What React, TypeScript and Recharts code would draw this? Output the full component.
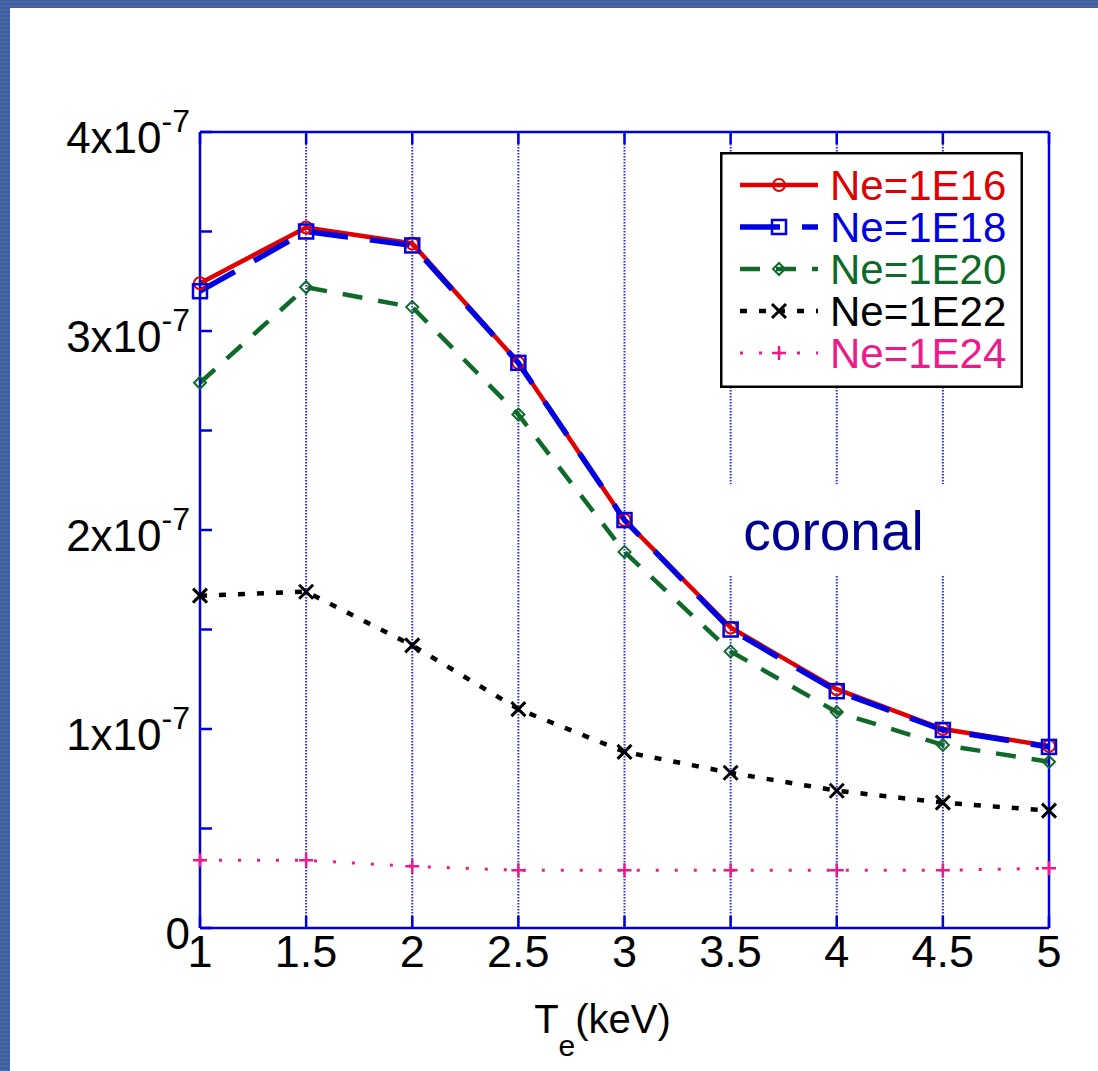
import React from "react";
import {
  LineChart,
  Line,
  XAxis,
  YAxis,
  CartesianGrid,
  Legend,
  ReferenceArea,
} from "recharts";

// electron temperature, keV
const temps = [1, 1.5, 2, 2.5, 3, 3.5, 4, 4.5, 5];

// values in units of 1e-7
const ne16 = [3.24, 3.52, 3.44, 2.84, 2.05, 1.51, 1.2, 1.0, 0.915];
const ne18 = [3.2, 3.5, 3.43, 2.84, 2.05, 1.5, 1.19, 0.995, 0.91];
const ne20 = [2.74, 3.22, 3.12, 2.58, 1.89, 1.39, 1.085, 0.92, 0.835];
const ne22 = [1.67, 1.69, 1.42, 1.1, 0.885, 0.78, 0.69, 0.63, 0.59];
const ne24 = [0.34, 0.34, 0.31, 0.29, 0.29, 0.29, 0.29, 0.29, 0.3];

const seriesKeys = ["ne16", "ne18", "ne20", "ne22", "ne24"];
const seriesNames = ["Ne=1E16", "Ne=1E18", "Ne=1E20", "Ne=1E22", "Ne=1E24"];

const xTicks = [1, 1.5, 2, 2.5, 3, 3.5, 4, 4.5, 5];
const yTicks = [0, 0.5, 1, 1.5, 2, 2.5, 3, 3.5, 4];
const yTickLabels: Record<number, string> = { 0: "0", 1: "1x10", 2: "2x10", 3: "3x10", 4: "4x10" };
const yExponent = "-7";

const data = temps.map((t, i) => ({
  t,
  ne16: ne16[i],
  ne18: ne18[i],
  ne20: ne20[i],
  ne22: ne22[i],
  ne24: ne24[i],
}));

const AXIS = "#0000dd";
const FONT = "'Liberation Sans', Arial, sans-serif";

const styles: Record<string, { color: string; width: number; dash?: string; shape: string }> = {
  ne16: { color: "#e00000", width: 4.5, shape: "circle" },
  ne18: { color: "#0000e0", width: 5.5, dash: "40 22", shape: "square" },
  ne20: { color: "#0f6a2a", width: 4.5, dash: "20 16", shape: "diamond" },
  ne22: { color: "#000000", width: 4.5, dash: "7 12", shape: "x" },
  ne24: { color: "#ee1a8c", width: 3, dash: "3 16", shape: "plus" },
};

function Marker({ shape, cx, cy, color }: { shape: string; cx: number; cy: number; color: string }) {
  if (cx == null || cy == null) return null;
  switch (shape) {
    case "circle":
      return <circle cx={cx} cy={cy} r={6} fill="none" stroke={color} strokeWidth={2} />;
    case "square":
      return <rect x={cx - 7} y={cy - 7} width={14} height={14} fill="none" stroke={color} strokeWidth={2.5} />;
    case "diamond":
      return (
        <polygon
          points={`${cx},${cy - 6} ${cx + 6},${cy} ${cx},${cy + 6} ${cx - 6},${cy}`}
          fill="none"
          stroke={color}
          strokeWidth={2}
        />
      );
    case "x":
      return (
        <path
          d={`M${cx - 7},${cy - 7}L${cx + 7},${cy + 7}M${cx - 7},${cy + 7}L${cx + 7},${cy - 7}`}
          stroke={color}
          strokeWidth={3}
        />
      );
    default:
      return (
        <path d={`M${cx - 7},${cy}L${cx + 7},${cy}M${cx},${cy - 7}L${cx},${cy + 7}`} stroke={color} strokeWidth={2.5} />
      );
  }
}

const LeftTick = ({ x, y, payload }: any) => {
  const v = payload.value;
  const label = yTickLabels[v];
  return (
    <g>
      <line x1={x} x2={x + 12} y1={y} y2={y} stroke={AXIS} strokeWidth={2.5} />
      {label !== undefined && (
        <text x={x - 10} y={y + 21} textAnchor="end" fontSize={44} fill="#000" fontFamily={FONT}>
          {label}
          {v !== 0 && (
            <tspan fontSize={32} dy={-21}>
              {yExponent}
            </tspan>
          )}
        </text>
      )}
    </g>
  );
};

const RightTick = ({ x, y }: any) => (
  <line x1={x - 12} x2={x} y1={y} y2={y} stroke={AXIS} strokeWidth={2.5} />
);

const BottomTick = ({ x, y, payload }: any) => (
  <g>
    <line x1={x} x2={x} y1={y - 12} y2={y} stroke={AXIS} strokeWidth={2.5} />
    <text x={x} y={y + 39} textAnchor="middle" fontSize={45} fill="#000" fontFamily={FONT}>
      {payload.value}
    </text>
  </g>
);

const TopTick = ({ x, y }: any) => (
  <line x1={x} x2={x} y1={y} y2={y + 12} stroke={AXIS} strokeWidth={2.5} />
);

const XTitle = (props: any) => {
  const vb = props.viewBox;
  const cx = vb.x + vb.width / 2 - 22;
  return (
    <text x={cx} y={vb.y + 105} textAnchor="middle" fontSize={40} fill="#000" fontFamily={FONT}>
      T
      <tspan fontSize={30} dy={23}>
        e
      </tspan>
      <tspan dy={-23}>(keV)</tspan>
    </text>
  );
};

const LegendBox = (props: any) => {
  const payload = props.payload || [];
  return (
    <svg width={303} height={236} style={{ display: "block" }}>
      <rect x={1.25} y={1.25} width={300.5} height={233.5} fill="#fff" stroke="#000" strokeWidth={2.5} />
      {payload.map((entry: any, i: number) => {
        const s = styles[entry.dataKey];
        const cy = 33 + i * 42;
        return (
          <g key={entry.dataKey}>
            <line x1={20} x2={98} y1={cy} y2={cy} stroke={s.color} strokeWidth={s.width} strokeDasharray={s.dash} />
            <Marker shape={s.shape} cx={59} cy={cy} color={s.color} />
            <text x={110} y={cy + 15} fill={s.color} fontSize={42} fontFamily={FONT}>
              {entry.value}
            </text>
          </g>
        );
      })}
    </svg>
  );
};

export default function App() {
  return (
    <div
      style={{
        position: "absolute",
        left: 0,
        top: 0,
        width: 1098,
        height: 1071,
        background: "repeating-linear-gradient(0deg, #4868a8 0px, #4868a8 2px, #3f5e9e 2px, #3f5e9e 4px)",
        fontFamily: FONT,
      }}
    >
      <div style={{ position: "absolute", left: 10, top: 8, right: 0, bottom: 0, background: "#fff" }} />
      <div style={{ position: "absolute", left: 0, top: 0 }}>
        <LineChart width={1098} height={1071} data={data} margin={{ top: 100, right: 0, left: 0, bottom: 0 }}>
          <CartesianGrid horizontal={false} stroke="#2a2af0" strokeWidth={2} strokeDasharray="1.5 1.5" />
          <XAxis
            dataKey="t"
            type="number"
            domain={[1, 5]}
            ticks={xTicks}
            interval={0}
            height={143}
            tickSize={0}
            tickMargin={0}
            tick={<BottomTick />}
            axisLine={{ stroke: AXIS, strokeWidth: 2.5 }}
            label={<XTitle />}
          />
          <XAxis
            xAxisId="t"
            dataKey="t"
            type="number"
            orientation="top"
            domain={[1, 5]}
            ticks={xTicks}
            interval={0}
            height={32}
            tickSize={0}
            tickMargin={0}
            tick={<TopTick />}
            axisLine={{ stroke: AXIS, strokeWidth: 2.5 }}
          />
          <YAxis
            type="number"
            domain={[0, 4]}
            ticks={yTicks}
            interval={0}
            width={200}
            tickSize={0}
            tickMargin={0}
            tick={<LeftTick />}
            axisLine={{ stroke: AXIS, strokeWidth: 2.5 }}
          />
          <YAxis
            yAxisId="r"
            type="number"
            orientation="right"
            domain={[0, 4]}
            ticks={yTicks}
            interval={0}
            width={49}
            tickSize={0}
            tickMargin={0}
            tick={<RightTick />}
            axisLine={{ stroke: AXIS, strokeWidth: 2.5 }}
          />
          <ReferenceArea
            x1={3.46}
            x2={4.51}
            y1={1.77}
            y2={2.23}
            fill="#fff"
            fillOpacity={1}
            stroke="none"
            label={{ value: "coronal", position: "center", fill: "#000090", fontSize: 55, fontFamily: FONT }}
          />
          {seriesKeys.map((k, i) => {
            const s = styles[k];
            return (
              <Line
                key={k}
                dataKey={k}
                name={seriesNames[i]}
                stroke={s.color}
                strokeWidth={s.width}
                strokeDasharray={s.dash}
                isAnimationActive={false}
                activeDot={false}
                dot={(p: any) => <Marker key={`${k}-${p.index}`} shape={s.shape} cx={p.cx} cy={p.cy} color={s.color} />}
              />
            );
          })}
          <Legend
            layout="vertical"
            align="center"
            verticalAlign="middle"
            content={<LegendBox />}
            wrapperStyle={{ position: "absolute", left: 720, top: 152, width: 303, height: 236 }}
          />
        </LineChart>
      </div>
    </div>
  );
}
